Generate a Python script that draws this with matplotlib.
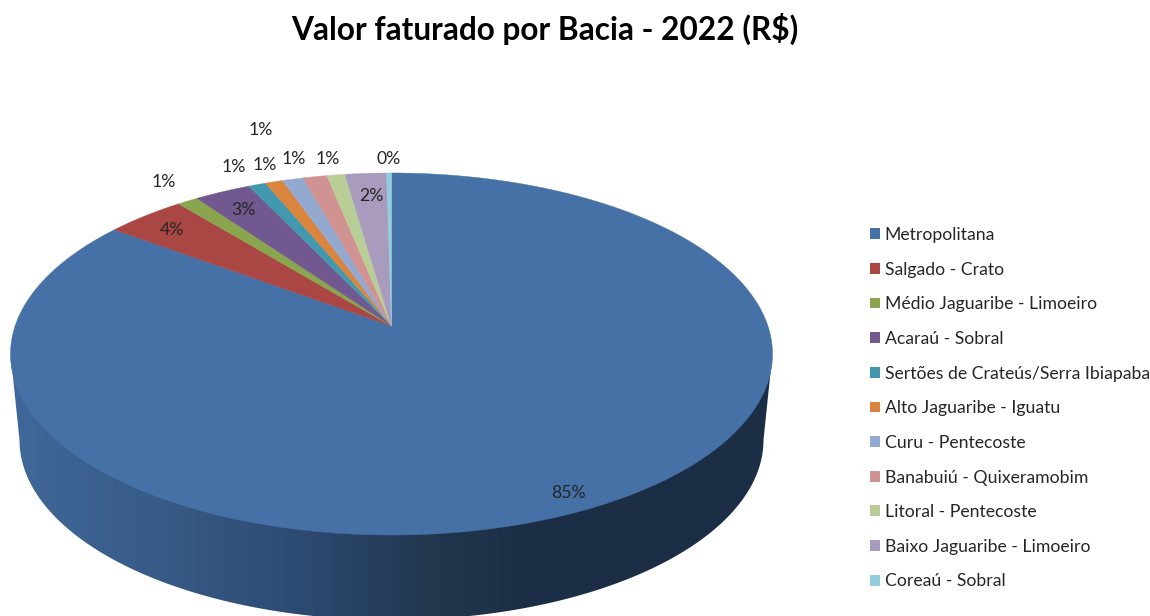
#!/usr/bin/env python3
"""Valor faturado por Bacia - 2022 (R$): pizza 3D desenhada em coordenadas de pixel."""

import numpy as np
import matplotlib
matplotlib.use('Agg')
import matplotlib.pyplot as plt
from matplotlib.colors import LinearSegmentedColormap
from matplotlib.patches import Patch, Polygon

plt.rcParams['font.family'] = ['Lato', 'DejaVu Sans']

TITLE = 'Valor faturado por Bacia - 2022 (R$)'
bacias = ['Metropolitana', 'Salgado - Crato', 'Médio Jaguaribe - Limoeiro', 'Acaraú - Sobral',
          'Sertões de Crateús/Serra Ibiapaba', 'Alto Jaguaribe - Iguatu', 'Curu - Pentecoste',
          'Banabuiú - Quixeramobim', 'Litoral - Pentecoste', 'Baixo Jaguaribe - Limoeiro',
          'Coreaú - Sobral']
valores = [85.14, 3.94, 1.03, 2.78, 0.86, 0.86, 1.03, 1.19, 0.89, 2.04, 0.24]
cores = ['#4571A7', '#AA4643', '#89A54E', '#71588F', '#4198AF', '#DB843D',
         '#93A9CF', '#D19392', '#B9CD96', '#A99BBD', '#92CDDC']

# posicao dos rotulos (px)
rotulos_x = [568, 172, 164, 243, 234, 261, 265, 294, 328, 371, 389]
rotulos_y = [493, 230, 182, 210, 167, 130, 165, 159, 159, 196, 159]

# geometria da pizza (px)
CX, APEX_Y = 391.5, 326.0
A, B, K = 376.4, 176.7, 0.1547
LADO_CX, LADO_RX, LADO_CY, LADO_RY = 391.5, 372.0, 440.0, 180.0
TOPO_CY, TOPO_RX, TOPO_RY = 353.0, 381.0, 180.0


def projeta(ang):
    """Angulo a partir do topo, sentido horario -> ponto da borda superior."""
    u, v = np.sin(ang), np.cos(ang)
    w = 1 + K * v
    return CX + A * u / w, APEX_Y - B * v / w


fig = plt.figure(figsize=(11.5, 6.16), dpi=100)
ax = fig.add_axes([0, 0, 1, 1])
ax.set_xlim(0, 1150)
ax.set_ylim(616, 0)
ax.axis('off')

# ===== lateral com degrade =====
t = np.linspace(0, np.pi, 200)
topo_x = CX + TOPO_RX * np.cos(t)
topo_y = TOPO_CY + TOPO_RY * np.sin(t)
base_x = LADO_CX + LADO_RX * np.cos(t)
base_y = LADO_CY + LADO_RY * np.sin(t)
contorno = np.column_stack([np.r_[topo_x, base_x[::-1]], np.r_[topo_y, base_y[::-1]]])
lateral = Polygon(contorno, closed=True, facecolor='none', edgecolor='none', transform=ax.transData)
ax.add_patch(lateral)
cmap = LinearSegmentedColormap.from_list('lado', [(0.0, '#40689A'), (0.18, '#385C88'), (0.38, '#2D4A72'),
                                                  (0.55, '#22384F'), (0.68, '#1B2E45'), (1.0, '#1B2E45')])
img = ax.imshow(np.linspace(0, 1, 256).reshape(1, -1), cmap=cmap, extent=[10, 772, 616, 340],
                aspect='auto', zorder=1)
img.set_clip_path(lateral)
ax.set_xlim(0, 1150)
ax.set_ylim(616, 0)

# ===== fatias =====
limites = np.r_[0, np.cumsum(valores)] / np.sum(valores) * 2 * np.pi
for i, cor in enumerate(cores):
    # Metropolitana comeca no topo e segue no sentido horario
    ang = np.linspace(limites[i], limites[i + 1], max(int(valores[i] * 8), 6))
    x, y = projeta(ang)
    ax.fill(np.r_[CX, x], np.r_[APEX_Y, y], facecolor=cor, edgecolor=cor, linewidth=0.3, zorder=2)

for valor, x, y in zip(valores, rotulos_x, rotulos_y):
    ax.text(x, y, f'{round(valor)}%', ha='center', va='center', fontsize=12.7, color='#262626', zorder=3)

ax.text(545, 29, TITLE, ha='center', va='center', fontsize=22.75, fontweight='bold', color='black')

alcas = [Patch(facecolor=c, edgecolor='none') for c in cores]
leg = ax.legend(alcas, bacias, loc='upper left', bbox_to_anchor=(870, 227), bbox_transform=ax.transData,
                frameon=False, fontsize=12.7, handlelength=0.57, handleheight=0.57, handletextpad=0.26,
                labelspacing=1.057, borderpad=0, borderaxespad=0, labelcolor='#262626')

fig.savefig('out.png', dpi=100)
